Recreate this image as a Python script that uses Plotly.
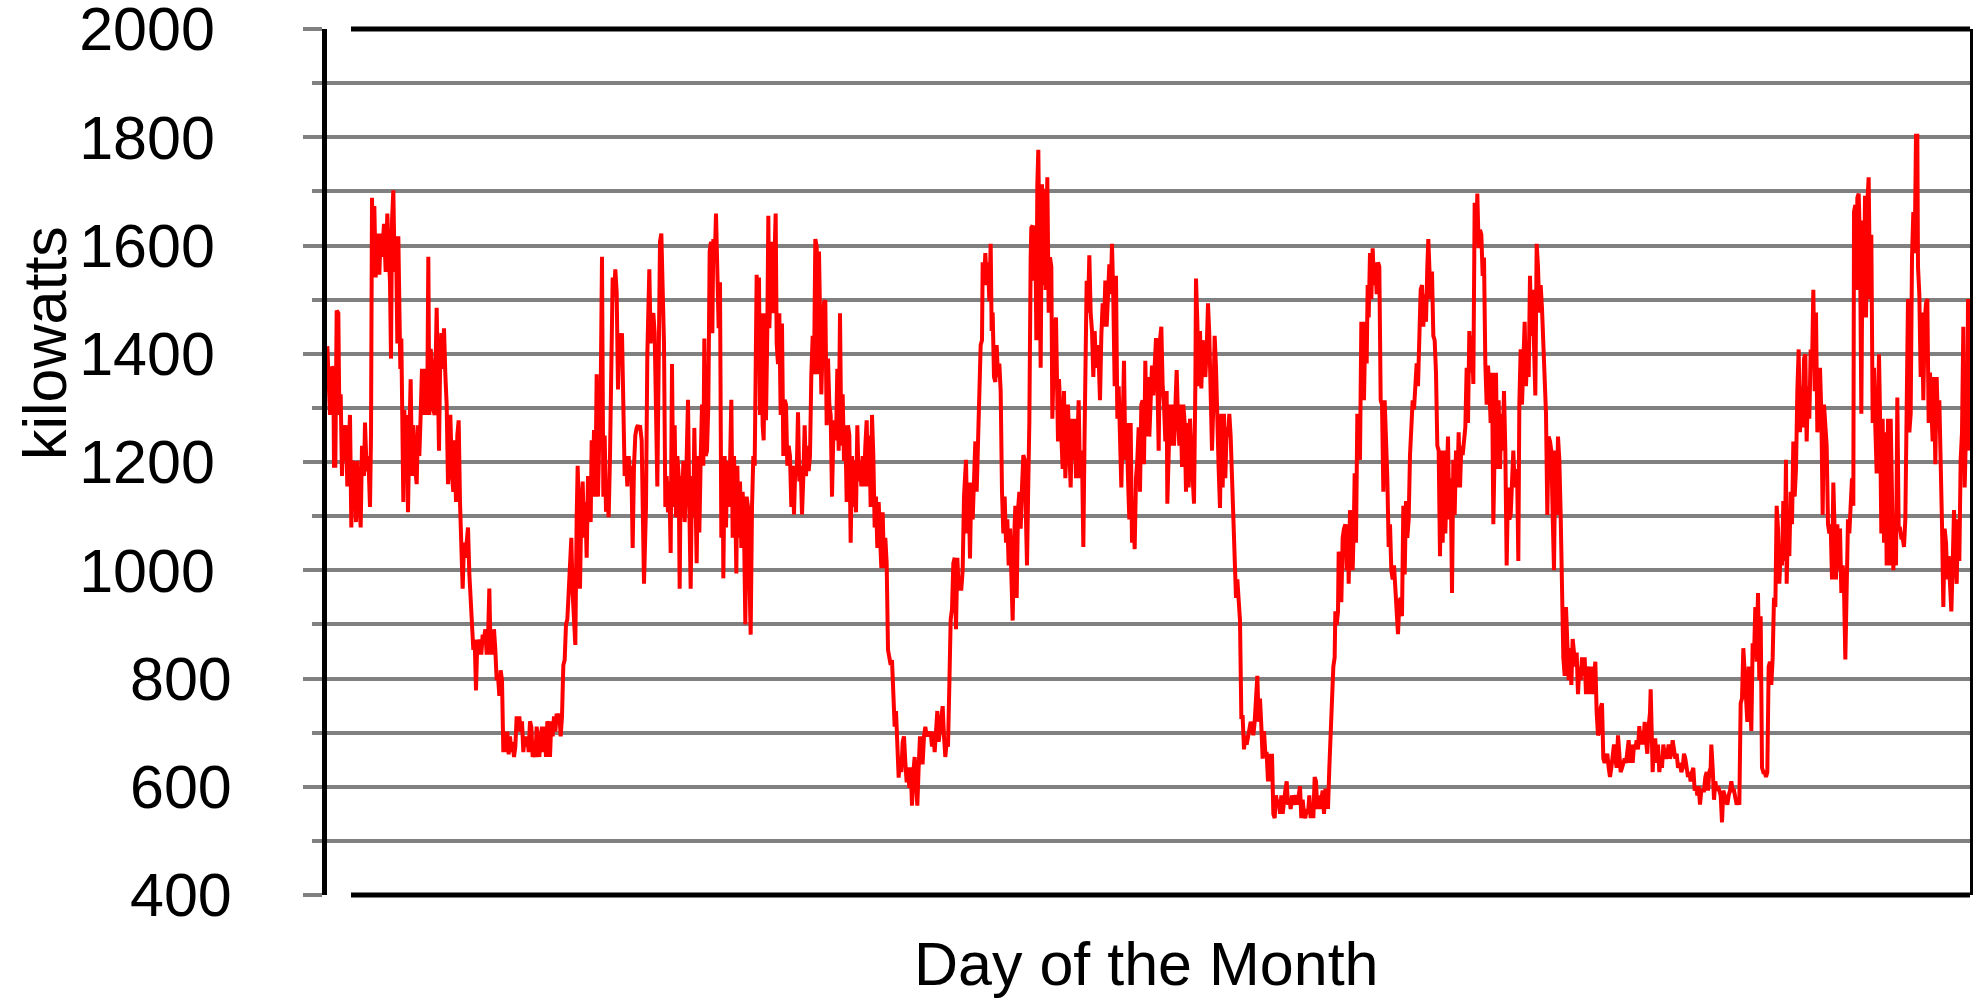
import plotly.graph_objects as go

# Building load log: (reading number, kilowatts). Readings run across the month,
# 4929 readings from the first to the last day.
log_part1 = [
    (1, 1414), (5, 1353), (9, 1287), (14, 1376), (19, 1372), (21, 1193), (25, 1193), (29, 1480),
    (34, 1475), (37, 1287), (41, 1325), (45, 1174), (49, 1268), (53, 1202), (57, 1268), (61, 1155),
    (65, 1211), (69, 1287), (73, 1079), (77, 1202), (83, 1193), (87, 1089), (91, 1202), (97, 1098),
    (101, 1079), (105, 1230), (111, 1174), (114, 1273), (119, 1183), (124, 1211), (129, 1117), (132, 1249),
    (135, 1688), (139, 1541), (142, 1673), (146, 1541), (151, 1622), (157, 1546), (161, 1622), (165, 1579),
    (171, 1640), (176, 1551), (181, 1659), (185, 1589), (189, 1532), (192, 1391), (195, 1645), (199, 1702),
    (203, 1551), (207, 1617), (211, 1419), (214, 1617), (217, 1532), (220, 1372), (223, 1428), (226, 1296),
    (229, 1126), (232, 1296), (236, 1174), (239, 1287), (243, 1107), (247, 1249), (251, 1353), (255, 1174),
    (259, 1268), (264, 1193), (269, 1159), (273, 1268), (277, 1211), (281, 1287), (285, 1372), (289, 1287),
    (293, 1372), (297, 1287), (301, 1325), (304, 1579), (307, 1287), (311, 1409), (315, 1381), (319, 1296),
    (323, 1287), (329, 1485), (333, 1306), (336, 1221), (339, 1362), (343, 1438), (347, 1372), (351, 1447),
    (355, 1362), (359, 1306), (363, 1159), (367, 1249), (370, 1287), (375, 1174), (379, 1145), (383, 1240),
    (387, 1126), (391, 1249), (395, 1277), (399, 1126), (403, 1032), (407, 966), (411, 1051), (415, 1023),
    (419, 1051), (423, 1079), (427, 994), (431, 938), (435, 891), (439, 853), (443, 872), (447, 778),
    (451, 872), (455, 844), (459, 872), (463, 844), (467, 881), (471, 872), (475, 891), (479, 844),
    (483, 872), (487, 966), (491, 844), (494, 891), (497, 844), (501, 891), (505, 853), (509, 797),
    (513, 806), (517, 768), (521, 815), (525, 797), (529, 664), (533, 702), (537, 664), (541, 702),
    (545, 660), (549, 693), (553, 664), (557, 683), (561, 655), (565, 674), (569, 730), (573, 702),
    (577, 730), (581, 702), (585, 721), (589, 664), (593, 693), (597, 674), (601, 693), (605, 664),
    (609, 721), (613, 711), (617, 655), (621, 664), (625, 655), (629, 711), (633, 683), (637, 655),
    (641, 693), (645, 711), (649, 664), (653, 711), (657, 655), (661, 721), (665, 711), (669, 655),
    (673, 721), (677, 693), (681, 730), (685, 702), (689, 735), (693, 721), (697, 735), (701, 693),
    (705, 730), (709, 825), (713, 834), (717, 900), (721, 909), (725, 975), (729, 1023), (733, 1060),
    (737, 957), (741, 881), (745, 862), (749, 1098), (752, 1193), (755, 1117), (759, 966), (763, 1117),
    (767, 1164), (771, 1060), (775, 1126), (779, 1023), (783, 1174), (787, 1126), (791, 1089), (794, 1240),
    (797, 1136), (801, 1259), (805, 1136), (809, 1362), (813, 1136), (817, 1249), (821, 1325), (825, 1579),
    (829, 1136), (833, 1249), (837, 1108), (841, 1136), (845, 1098), (849, 1211), (853, 1419), (857, 1541),
    (861, 1504), (865, 1556), (869, 1513), (873, 1334), (877, 1438), (881, 1409), (885, 1438), (889, 1277),
    (893, 1174), (897, 1211), (901, 1155), (905, 1211), (909, 1174), (913, 1193), (917, 1041), (921, 1193),
    (925, 1249), (929, 1263), (933, 1268), (937, 1259),
]

log_part2 = [
    (939, 1268), (944, 1240), (951, 975), (957, 1117), (961, 1400), (967, 1556), (971, 1419), (974, 1466),
    (979, 1475), (983, 1438), (987, 1306), (991, 1155), (995, 1381), (999, 1607), (1003, 1622), (1007, 1504),
    (1011, 1419), (1015, 1117), (1019, 1174), (1023, 1107), (1027, 1164), (1031, 1032), (1035, 1381), (1039, 1117),
    (1043, 1268), (1047, 1098), (1051, 1211), (1055, 1174), (1058, 966), (1061, 1174), (1065, 1098), (1069, 1202),
    (1073, 1089), (1077, 1155), (1081, 1306), (1083, 1315), (1087, 1117), (1091, 966), (1095, 1174), (1099, 1098),
    (1102, 1263), (1105, 1117), (1109, 1013), (1113, 1211), (1117, 1070), (1121, 1202), (1125, 1306), (1129, 1193),
    (1132, 1428), (1136, 1211), (1140, 1221), (1144, 1306), (1148, 1589), (1152, 1607), (1156, 1438), (1159, 1612),
    (1163, 1570), (1167, 1659), (1171, 1560), (1175, 1447), (1179, 1532), (1183, 1060), (1187, 1211), (1189, 985),
    (1193, 1211), (1197, 1079), (1201, 1202), (1205, 1117), (1209, 1193), (1213, 1315), (1217, 1060), (1221, 1211),
    (1225, 1117), (1228, 994), (1231, 1193), (1235, 1060), (1239, 1164), (1243, 1041), (1247, 1145), (1251, 1079),
    (1255, 900), (1259, 1136), (1263, 1117), (1267, 966), (1271, 881), (1275, 1117), (1279, 1211), (1283, 1193),
    (1286, 1513), (1289, 1546), (1293, 1419), (1296, 1541), (1299, 1287), (1303, 1475), (1307, 1268), (1310, 1240),
    (1314, 1475), (1317, 1277), (1321, 1447), (1324, 1655), (1327, 1447), (1331, 1541), (1335, 1607), (1338, 1475),
    (1342, 1589), (1346, 1659), (1349, 1419), (1353, 1381), (1357, 1475), (1361, 1287), (1365, 1456), (1369, 1211),
    (1373, 1315), (1377, 1306), (1381, 1193), (1385, 1230), (1389, 1211), (1393, 1117), (1397, 1193), (1401, 1103),
    (1405, 1193), (1409, 1174), (1413, 1292), (1417, 1164), (1421, 1193), (1425, 1103), (1429, 1174), (1433, 1268),
    (1437, 1174), (1441, 1230), (1445, 1183), (1449, 1211), (1453, 1362), (1457, 1433), (1461, 1362), (1465, 1612),
    (1469, 1598), (1473, 1362), (1476, 1589), (1479, 1494), (1483, 1325), (1487, 1419), (1491, 1494), (1495, 1499),
    (1499, 1268), (1503, 1391), (1507, 1306), (1511, 1287), (1515, 1136), (1519, 1249), (1523, 1277), (1527, 1240),
    (1531, 1372), (1535, 1221), (1539, 1475), (1543, 1230), (1547, 1325), (1551, 1202), (1555, 1268), (1559, 1126),
    (1563, 1268), (1567, 1249), (1571, 1051), (1575, 1211), (1579, 1117), (1583, 1202), (1587, 1107), (1591, 1268),
    (1595, 1164), (1599, 1202), (1603, 1155), (1607, 1211), (1611, 1155), (1615, 1230), (1619, 1277), (1623, 1155),
    (1627, 1249), (1631, 1117), (1635, 1287), (1639, 1211), (1643, 1079), (1647, 1136), (1651, 1041), (1655, 1126),
    (1659, 1051), (1663, 1004), (1667, 1107), (1671, 1004), (1675, 1060), (1679, 1013), (1683, 853), (1687, 834),
    (1691, 825), (1695, 834), (1699, 787), (1703, 711), (1707, 740), (1711, 655), (1715, 617), (1719, 655),
    (1723, 627), (1727, 683), (1731, 693), (1735, 645), (1739, 608), (1743, 636), (1747, 598), (1751, 636),
    (1755, 565), (1759, 627), (1763, 655), (1767, 608), (1771, 565), (1775, 636), (1779, 693), (1783, 645),
    (1787, 645), (1791, 693), (1795, 711), (1799, 693), (1803, 702), (1807, 693), (1811, 702), (1815, 674),
    (1819, 702), (1823, 664), (1827, 693), (1831, 740), (1835, 683), (1839, 711), (1843, 740), (1847, 749),
    (1851, 693), (1855, 655), (1859, 683), (1863, 674), (1867, 787), (1871, 909), (1875, 928), (1879, 1013),
    (1883, 1023), (1887, 891), (1891, 1023), (1895, 966),
]

log_part3 = [
    (1903, 966), (1907, 1000), (1911, 1136), (1917, 1204), (1921, 1068), (1925, 1162), (1929, 1022), (1933, 1162),
    (1937, 1094), (1941, 1196), (1945, 1238), (1949, 1145), (1953, 1221), (1957, 1340), (1961, 1416), (1965, 1425),
    (1967, 1569), (1971, 1527), (1975, 1586), (1979, 1527), (1983, 1569), (1987, 1497), (1991, 1603), (1994, 1442),
    (1997, 1476), (2001, 1357), (2005, 1348), (2009, 1416), (2013, 1357), (2017, 1382), (2021, 1331), (2025, 1145),
    (2029, 1068), (2033, 1136), (2037, 1051), (2041, 1094), (2045, 1009), (2049, 1077), (2053, 966), (2057, 907),
    (2061, 1051), (2065, 1119), (2069, 949), (2073, 1111), (2077, 1145), (2081, 1077), (2085, 1153), (2089, 1213),
    (2093, 1204), (2097, 1068), (2100, 1009), (2103, 1128), (2107, 1272), (2111, 1578), (2113, 1633), (2117, 1637),
    (2121, 1535), (2125, 1637), (2128, 1425), (2131, 1713), (2134, 1777), (2137, 1603), (2141, 1374), (2145, 1713),
    (2149, 1527), (2153, 1705), (2156, 1518), (2161, 1726), (2165, 1476), (2169, 1578), (2173, 1561), (2176, 1280),
    (2179, 1340), (2183, 1450), (2187, 1467), (2190, 1357), (2193, 1238), (2196, 1353), (2199, 1306), (2203, 1264),
    (2207, 1187), (2211, 1331), (2215, 1170), (2219, 1238), (2223, 1306), (2227, 1221), (2231, 1153), (2235, 1280),
    (2239, 1204), (2243, 1280), (2247, 1170), (2251, 1230), (2255, 1314), (2259, 1170), (2263, 1221), (2266, 1170),
    (2269, 1043), (2273, 1264), (2276, 1518), (2279, 1535), (2283, 1476), (2287, 1582), (2291, 1476), (2295, 1442),
    (2299, 1357), (2303, 1442), (2307, 1374), (2311, 1416), (2315, 1391), (2319, 1314), (2323, 1433), (2327, 1493),
    (2331, 1450), (2335, 1535), (2339, 1450), (2343, 1501), (2347, 1565), (2351, 1510), (2355, 1603), (2359, 1501),
    (2363, 1340), (2367, 1544), (2371, 1280), (2375, 1340), (2379, 1272), (2383, 1153), (2387, 1264), (2391, 1387),
    (2395, 1204), (2399, 1272), (2403, 1170), (2407, 1094), (2411, 1272), (2415, 1051), (2419, 1119), (2423, 1039),
    (2427, 1170), (2431, 1204), (2435, 1264), (2439, 1145), (2443, 1306), (2447, 1314), (2451, 1196), (2455, 1387),
    (2459, 1247), (2463, 1357), (2467, 1247), (2471, 1297), (2475, 1378), (2479, 1323), (2483, 1391), (2487, 1429),
    (2491, 1357), (2495, 1221), (2499, 1425), (2503, 1450), (2507, 1340), (2511, 1306), (2515, 1238), (2519, 1331),
    (2521, 1123), (2525, 1230), (2529, 1306), (2533, 1230), (2537, 1306), (2541, 1230), (2545, 1306), (2549, 1370),
    (2553, 1280), (2557, 1230), (2561, 1306), (2565, 1191), (2569, 1306), (2573, 1272), (2577, 1145), (2581, 1272),
    (2585, 1153), (2589, 1280), (2593, 1221), (2597, 1153), (2601, 1123), (2605, 1340), (2607, 1539), (2611, 1459),
    (2615, 1340),
]

log_part4 = [
    (2619, 1442), (2623, 1336), (2627, 1425), (2631, 1391), (2635, 1357), (2639, 1408), (2643, 1493), (2647, 1433),
    (2651, 1306), (2655, 1221), (2659, 1306), (2663, 1433), (2667, 1374), (2671, 1306), (2675, 1187), (2679, 1115),
    (2683, 1289), (2687, 1153), (2691, 1289), (2695, 1170), (2699, 1264), (2703, 1247), (2707, 1289), (2711, 1247),
    (2715, 1170), (2719, 1136), (2723, 1017), (2727, 949), (2731, 983), (2735, 932), (2739, 907), (2743, 729),
    (2747, 729), (2751, 669), (2755, 695), (2759, 678), (2763, 695), (2767, 703), (2771, 720), (2775, 712),
    (2779, 695), (2783, 720), (2787, 763), (2791, 805), (2795, 720), (2799, 763), (2803, 712), (2807, 652),
    (2811, 703), (2815, 661), (2819, 661), (2823, 610), (2827, 661), (2831, 610), (2835, 661), (2839, 550),
    (2843, 542), (2847, 584), (2851, 567), (2855, 576), (2859, 550), (2863, 584), (2867, 550), (2871, 584),
    (2875, 593), (2879, 610), (2883, 567), (2887, 576), (2891, 559), (2895, 584), (2899, 567), (2903, 576),
    (2907, 584), (2911, 567), (2915, 593), (2919, 601), (2923, 542), (2927, 576), (2931, 550), (2935, 542),
    (2939, 559), (2943, 550), (2947, 584), (2951, 542), (2955, 567), (2959, 542), (2963, 618), (2967, 610),
    (2971, 559), (2975, 584), (2979, 559), (2983, 584), (2987, 593), (2991, 550), (2995, 593), (2999, 593),
    (3003, 559), (3007, 635), (3011, 703), (3015, 720), (3019, 822), (3023, 839), (3025, 924), (3029, 899),
    (3033, 924), (3035, 1034), (3039, 1026), (3043, 941), (3047, 1060), (3051, 1077), (3055, 1085), (3059, 1000),
    (3063, 1085), (3065, 975), (3069, 1111), (3073, 1043), (3077, 1000), (3081, 1102), (3083, 1179), (3087, 1051),
    (3091, 1289), (3095, 1221), (3099, 1204), (3103, 1459), (3107, 1416), (3111, 1314), (3115, 1459), (3119, 1382),
    (3122, 1527), (3125, 1467), (3129, 1586), (3133, 1501), (3137, 1595), (3141, 1527), (3145, 1569), (3149, 1510),
    (3153, 1569), (3157, 1561), (3161, 1314), (3165, 1306), (3169, 1145), (3173, 1314), (3177, 1255), (3181, 1170),
    (3185, 1043), (3189, 1085), (3193, 1000), (3197, 983), (3201, 1009), (3205, 975), (3209, 941), (3213, 882),
    (3217, 941), (3221, 949), (3225, 915), (3229, 1119), (3233, 992), (3237, 1128), (3241, 1060), (3245, 1094),
    (3249, 1213), (3253, 1255), (3257, 1314), (3261, 1297), (3265, 1348), (3269, 1382), (3273, 1340), (3277, 1408),
    (3281, 1518), (3285, 1527), (3289, 1450), (3293, 1510), (3297, 1459), (3301, 1561), (3304, 1612), (3307, 1561),
    (3311, 1501), (3315, 1552), (3319, 1433), (3323, 1425), (3327, 1365), (3331, 1230), (3335, 1221),
]

log_part5 = [
    (3339, 1026), (3343, 1221), (3347, 1051), (3351, 1221), (3355, 1068), (3359, 1187), (3363, 1247), (3367, 1094),
    (3371, 1170), (3375, 958), (3379, 1204), (3383, 1102), (3387, 1221), (3391, 1153), (3395, 1255), (3399, 1153),
    (3403, 1230), (3407, 1213), (3411, 1238), (3415, 1264), (3419, 1374), (3423, 1272), (3427, 1442), (3431, 1365),
    (3435, 1433), (3439, 1344), (3443, 1679), (3447, 1603), (3451, 1696), (3455, 1595), (3459, 1629), (3463, 1620),
    (3467, 1544), (3471, 1578), (3475, 1382), (3479, 1306), (3483, 1378), (3487, 1340), (3491, 1272), (3495, 1365),
    (3499, 1085), (3503, 1221), (3507, 1365), (3511, 1187), (3515, 1314), (3519, 1187), (3523, 1289), (3527, 1221),
    (3531, 1331), (3535, 1221), (3539, 1009), (3543, 1153), (3547, 1094), (3551, 1102), (3555, 1153), (3559, 1221),
    (3563, 1153), (3567, 1187), (3571, 1153), (3574, 1017), (3577, 1306), (3581, 1408), (3585, 1306), (3589, 1408),
    (3593, 1459), (3597, 1340), (3601, 1408), (3605, 1357), (3609, 1544), (3613, 1433), (3617, 1518), (3621, 1416),
    (3625, 1323), (3629, 1603), (3633, 1561), (3637, 1476), (3641, 1527), (3645, 1484), (3649, 1408), (3653, 1365),
    (3657, 1289), (3661, 1102), (3665, 1247), (3669, 1238), (3673, 1221), (3677, 1102), (3681, 1000), (3685, 1221),
    (3689, 1102), (3693, 1247), (3697, 1204), (3701, 1102), (3705, 966), (3709, 839), (3713, 805), (3717, 932),
    (3721, 865), (3725, 797), (3729, 856), (3733, 788), (3737, 873), (3741, 839), (3745, 822), (3749, 848),
    (3753, 771), (3757, 822), (3761, 797), (3765, 839), (3769, 805), (3773, 839), (3777, 771), (3781, 822),
    (3785, 805), (3789, 771), (3793, 822), (3797, 771), (3801, 814), (3805, 831), (3809, 737), (3813, 695),
    (3817, 703), (3821, 746), (3825, 754), (3829, 652), (3833, 644), (3837, 652), (3841, 661), (3845, 635),
    (3849, 618), (3853, 635), (3857, 661), (3861, 678), (3865, 652), (3869, 635), (3873, 695), (3877, 669),
    (3881, 627), (3885, 635), (3889, 644), (3893, 652), (3897, 644), (3901, 669), (3905, 686), (3909, 644),
    (3913, 678), (3917, 644), (3921, 678), (3925, 669), (3929, 686), (3933, 669), (3937, 712), (3941, 678),
    (3945, 703), (3949, 678), (3953, 720), (3957, 686), (3961, 661), (3965, 712), (3969, 737), (3971, 780),
    (3975, 678), (3977, 627), (3981, 686), (3985, 686), (3989, 644), (3993, 678), (3997, 627), (4001, 652),
    (4005, 635), (4009, 678), (4013, 661), (4017, 652), (4021, 661), (4025, 678), (4029, 652), (4033, 661),
    (4037, 686), (4041, 661), (4045, 652), (4049, 661), (4053, 635),
]

log_part6 = [
    (4059, 644), (4063, 627), (4067, 635), (4071, 661), (4075, 652), (4079, 627), (4083, 618), (4087, 627),
    (4091, 610), (4095, 627), (4099, 635), (4103, 593), (4107, 601), (4111, 584), (4115, 601), (4119, 567),
    (4123, 593), (4127, 593), (4131, 593), (4135, 618), (4139, 627), (4143, 593), (4147, 627), (4151, 635),
    (4153, 678), (4157, 635), (4161, 576), (4165, 610), (4169, 593), (4173, 601), (4177, 593), (4181, 584),
    (4185, 534), (4189, 593), (4193, 584), (4197, 576), (4201, 567), (4205, 584), (4209, 593), (4213, 610),
    (4217, 593), (4221, 593), (4225, 576), (4229, 567), (4233, 576), (4237, 567), (4241, 754), (4245, 763),
    (4249, 856), (4253, 797), (4257, 746), (4261, 720), (4265, 822), (4269, 746), (4273, 703), (4277, 865),
    (4281, 839), (4285, 932), (4289, 831), (4293, 958), (4297, 797), (4301, 915), (4305, 635), (4309, 627),
    (4313, 627), (4317, 618), (4321, 627), (4325, 822), (4329, 831), (4333, 788), (4337, 839), (4341, 949),
    (4345, 932), (4349, 1119), (4353, 1077), (4357, 975), (4361, 1034), (4365, 1009), (4369, 1128), (4373, 1017),
    (4377, 1204), (4379, 975), (4383, 1085), (4387, 1026), (4391, 1145), (4395, 1085), (4399, 1238), (4403, 1136),
    (4407, 1187), (4411, 1331), (4415, 1408), (4419, 1255), (4423, 1340), (4427, 1264), (4431, 1391), (4435, 1399),
    (4439, 1238), (4443, 1340), (4447, 1280), (4451, 1408), (4455, 1374), (4459, 1518), (4463, 1331), (4467, 1476),
    (4471, 1255), (4475, 1289), (4479, 1374), (4483, 1289), (4487, 1102), (4491, 1306), (4495, 1255), (4499, 1230),
    (4503, 1085), (4507, 1068), (4511, 1085), (4515, 983), (4519, 1162), (4523, 1085), (4527, 983), (4531, 1085),
    (4535, 1000), (4539, 1077), (4543, 958), (4547, 1009), (4551, 966), (4555, 835), (4559, 932), (4563, 1094),
    (4567, 1068), (4571, 1119), (4575, 1170), (4579, 1119), (4581, 1662), (4585, 1675), (4589, 1518), (4591, 1688),
    (4595, 1696), (4599, 1603), (4603, 1289), (4607, 1646), (4611, 1476), (4614, 1692), (4617, 1467), (4621, 1679),
    (4625, 1726), (4629, 1501), (4633, 1620), (4637, 1272), (4641, 1374), (4645, 1264), (4649, 1179), (4653, 1289),
    (4656, 1399), (4659, 1289), (4663, 1068), (4667, 1280), (4671, 1051), (4675, 1255), (4679, 1009), (4683, 1280),
    (4687, 1009), (4691, 1280), (4695, 1068), (4699, 1000), (4703, 1077), (4707, 1009), (4711, 1319), (4715, 1077),
    (4719, 1077), (4723, 1060), (4727, 1060), (4731, 1043), (4735, 1094), (4739, 1255), (4743, 1501), (4747, 1255),
    (4751, 1289), (4755, 1578), (4759, 1662), (4763, 1586), (4767, 1803), (4771, 1803), (4773, 1561), (4777, 1510),
    (4781, 1357), (4785, 1476), (4789, 1314), (4793, 1459), (4797, 1493), (4801, 1501), (4805, 1272), (4809, 1365),
    (4813, 1306), (4817, 1238), (4821, 1357), (4825, 1196), (4829, 1357), (4833, 1264), (4837, 1314), (4841, 1221),
    (4845, 1085), (4849, 932), (4853, 1077), (4857, 1051), (4861, 983), (4865, 1026), (4869, 966), (4873, 924),
    (4877, 1009), (4881, 1111), (4885, 1026), (4889, 975), (4893, 1094), (4897, 1017), (4901, 1204), (4905, 1255),
    (4909, 1450), (4913, 1153), (4917, 1255), (4921, 1272), (4923, 1501), (4927, 1221),
]

readings_in_month = 4929

kw_major = [400, 600, 800, 1000, 1200, 1400, 1600, 1800, 2000]
kw_minor = [500, 700, 900, 1100, 1300, 1500, 1700, 1900]

parts = [log_part1, log_part2, log_part3, log_part4, log_part5, log_part6]
reading = [r for part in parts for r, _ in part]
kw = [v for part in parts for _, v in part]

# four-digit labels carry a trailing no-break space, as in the printed axis
tick_text = [str(v) if v < 1000 else str(v) + "\u00a0" for v in kw_major]

GRID = "#808080"
FONT = "Liberation Sans, Arial, sans-serif"

fig = go.Figure(
    go.Scatter(
        x=reading,
        y=kw,
        mode="lines",
        line=dict(color="#ff0000", width=4),
        hoverinfo="skip",
    )
)

fig.update_layout(
    width=1973,
    height=998,
    margin=dict(l=327, r=3, t=29, b=103, autoexpand=False),
    paper_bgcolor="white",
    plot_bgcolor="white",
    showlegend=False,
    font=dict(family=FONT, color="black", size=61),
    xaxis=dict(
        range=[0, readings_in_month],
        showgrid=False,
        zeroline=False,
        showticklabels=False,
        ticks="",
        showline=False,
        automargin=False,
    ),
    yaxis=dict(
        range=[400, 2000],
        automargin=False,
        tickmode="array",
        tickvals=kw_major,
        ticktext=tick_text,
        ticks="outside",
        ticklen=19,
        tickwidth=4,
        tickcolor=GRID,
        tickfont=dict(family=FONT, size=61, color="black"),
        ticklabelstandoff=59,
        ticklabeloverflow="allow",
        showgrid=True,
        gridcolor=GRID,
        gridwidth=4,
        zeroline=False,
        showline=True,
        linecolor="black",
        linewidth=5,
        mirror=True,
        minor=dict(
            tickmode="array",
            tickvals=kw_minor,
            ticks="outside",
            ticklen=10,
            tickwidth=4,
            tickcolor=GRID,
            showgrid=True,
            gridcolor=GRID,
            gridwidth=4,
        ),
    ),
)

# top and bottom frame edges
for y_edge in (0, 1):
    fig.add_shape(
        type="line",
        xref="paper",
        yref="paper",
        x0=24 / 1643,
        x1=1,
        y0=y_edge,
        y1=y_edge,
        line=dict(color="black", width=5),
        layer="above",
    )

fig.add_annotation(
    text="kilowatts",
    xref="paper",
    yref="paper",
    x=-0.1716,
    y=0.6374,
    xanchor="center",
    yanchor="middle",
    textangle=-90,
    showarrow=False,
    font=dict(family=FONT, size=61, color="black"),
)

fig.add_annotation(
    text="Day of the Month",
    xref="paper",
    yref="paper",
    x=0.4985,
    y=-0.0795,
    xanchor="center",
    yanchor="middle",
    showarrow=False,
    font=dict(family=FONT, size=61, color="black"),
)

fig.write_html("out.html")
